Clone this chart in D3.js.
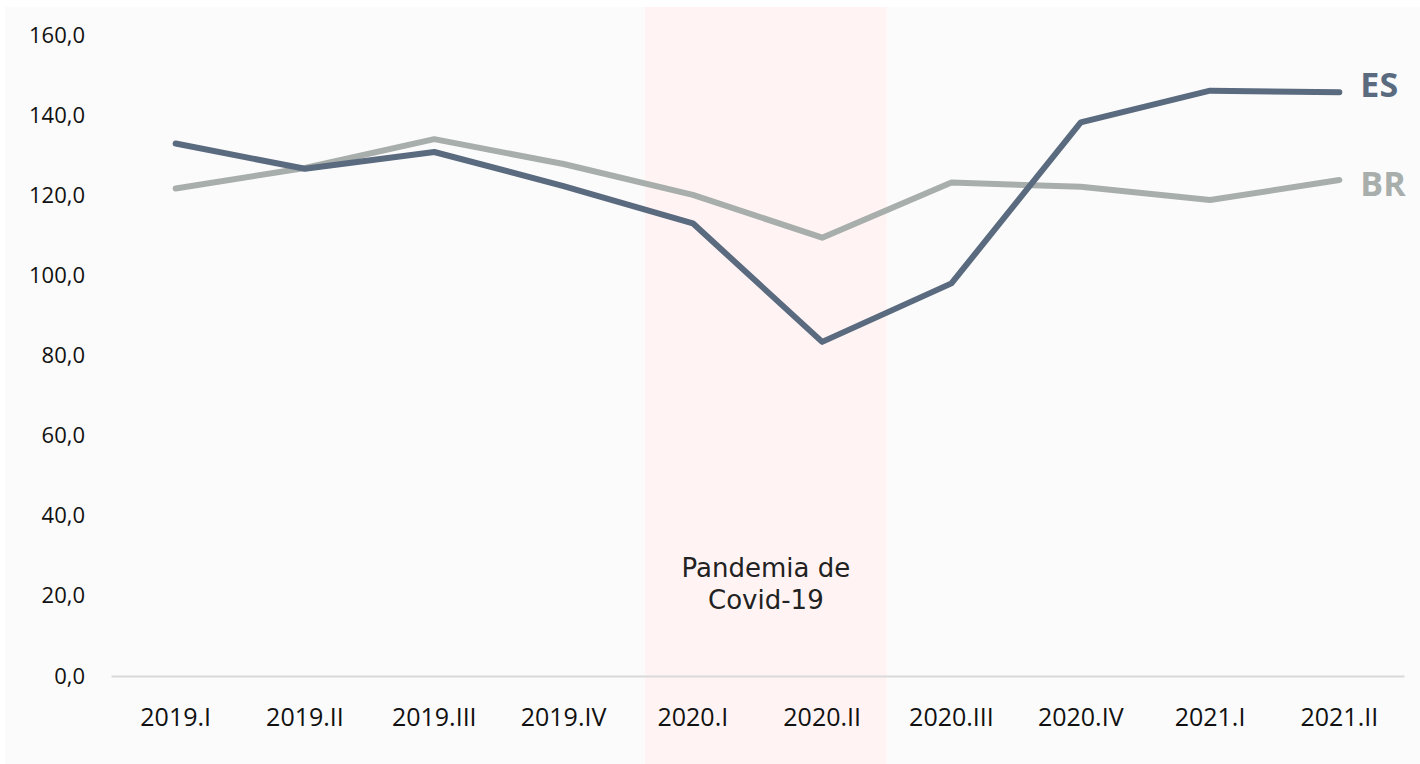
<!DOCTYPE html>
<html>
<head>
<meta charset="utf-8">
<script src="https://cdn.jsdelivr.net/npm/d3@7"></script>
<style>
  body { margin: 0; background: #fff; }
  svg { display: block; }
</style>
</head>
<body>
<svg id="chart"></svg>
<script>
// quarters and series values (index)
var quarters = ['2019.I', '2019.II', '2019.III', '2019.IV', '2020.I', '2020.II', '2020.III', '2020.IV', '2021.I', '2021.II'];
var esValues = [132.9, 126.6, 130.8, 122.3, 113.0, 83.4, 98.0, 138.2, 146.1, 145.7];
var brValues = [121.7, 126.8, 134.0, 127.8, 120.1, 109.4, 123.2, 122.1, 118.8, 123.8];
var yTicks = [0, 20, 40, 60, 80, 100, 120, 140, 160];
var pandemicQuarters = ['2020.I', '2020.II'];

var width = 1420, height = 764;
var margin = {top: 35, right: 16, bottom: 88, left: 111};

var svg = d3.select('#chart')
            .attr('width', width)
            .attr('height', height);

// plot area background
svg.append('rect')
   .attr('x', 5).attr('y', 7)
   .attr('width', width - 5).attr('height', height - 7)
   .attr('fill', '#fbfbfb');

var x = d3.scaleBand()
          .domain(quarters)
          .range([margin.left, width - margin.right]);

var y = d3.scaleLinear()
          .domain([0, 160])
          .range([height - margin.bottom, margin.top]);

// pandemic shading
var bw = x.bandwidth();
var shadeX0 = x(pandemicQuarters[0]) + bw * 0.13;
var shadeX1 = x(pandemicQuarters[1]) + bw;
svg.append('rect')
   .attr('x', shadeX0).attr('y', 7)
   .attr('width', shadeX1 - shadeX0).attr('height', height - 7)
   .attr('fill', '#fff4f3');

svg.append('text')
   .attr('x', (shadeX0 + shadeX1) / 2)
   .attr('y', y(20) - 19)
   .attr('text-anchor', 'middle')
   .style('font-family', 'DejaVu Sans')
   .style('font-size', '26px')
   .style('fill', '#222')
   .selectAll('tspan')
   .data(['Pandemia de', 'Covid-19'])
   .enter()
   .append('tspan')
   .attr('x', (shadeX0 + shadeX1) / 2)
   .attr('dy', function(d, i){ return i === 0 ? 0 : 32; })
   .text(function(d){ return d; });

// y axis labels
var yAxis = d3.axisLeft(y)
              .tickValues(yTicks)
              .tickSize(0)
              .tickPadding(0)
              .tickFormat(function(d){ return d3.format('.1f')(d).replace('.', ','); });

var gy = svg.append('g')
            .attr('transform', 'translate(' + 85 + ',0)')
            .call(yAxis);
gy.select('.domain').remove();
gy.selectAll('text')
  .style('font-family', 'Open Sans')
  .style('font-size', '22px')
  .style('fill', '#111');

// x axis
var xAxis = d3.axisBottom(x).tickSize(0).tickPadding(32);
var gx = svg.append('g')
            .attr('transform', 'translate(0,' + y(0) + ')')
            .call(xAxis);
gx.select('.domain')
  .attr('stroke', '#d9d9d9')
  .attr('stroke-width', 2);
gx.selectAll('text')
  .style('font-family', 'Open Sans')
  .style('font-size', '25px')
  .style('fill', '#111');

// lines
var line = d3.line()
             .x(function(d, i){ return x(quarters[i]) + bw / 2; })
             .y(function(d){ return y(d); });

var series = [
  {name: 'BR', values: brValues, color: '#a8aeab', shift: 16},
  {name: 'ES', values: esValues, color: '#5a6a7f', shift: 5}
];

svg.selectAll('path.series')
   .data(series)
   .enter()
   .append('path')
   .attr('class', 'series')
   .attr('d', function(d){ return line(d.values); })
   .attr('fill', 'none')
   .attr('stroke', function(d){ return d.color; })
   .attr('stroke-width', 6)
   .attr('stroke-linecap', 'round')
   .attr('stroke-linejoin', 'round');

svg.selectAll('text.series-label')
   .data(series)
   .enter()
   .append('text')
   .attr('class', 'series-label')
   .attr('x', x(quarters[quarters.length - 1]) + bw / 2 + 21)
   .attr('y', function(d){ return y(d.values[d.values.length - 1]) + d.shift; })
   .style('font-family', 'Open Sans')
   .style('font-weight', 'bold')
   .style('font-size', '34px')
   .style('fill', function(d){ return d.color; })
   .text(function(d){ return d.name; });
</script>
</body>
</html>
